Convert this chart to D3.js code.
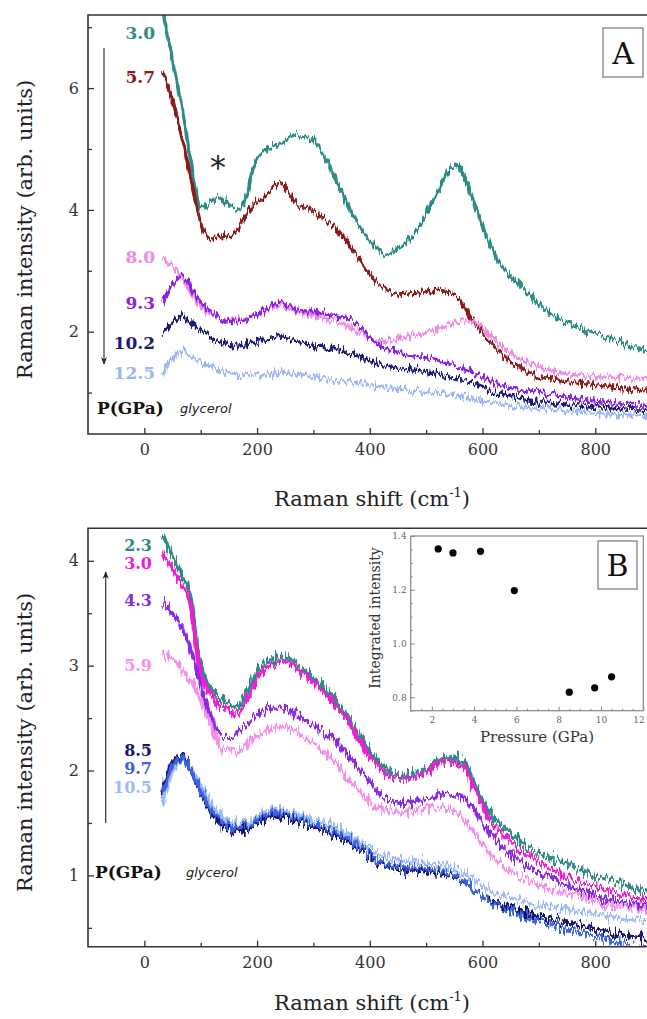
<!DOCTYPE html>
<html><head><meta charset="utf-8">
<script src="https://cdn.jsdelivr.net/npm/d3@7/dist/d3.min.js"></script>
<style>body{margin:0;background:#fff}svg{display:block}</style>
</head><body><svg id="c" width="647" height="1019"></svg>
<script>
// ---- Panel A data (Raman shift grid, cm-1) ----
const shiftA = [32,50,68,86,100,115,130,150,165,180,195,210,240,270,295,320,345,375,400,425,450,480,515,550,565,580,600,625,660,695,730,765,800,835,870,900];
const a_3_0  = [7.3,6.45,5.62,4.6,4.02,4.12,4.2,4.1,4.02,4.2,4.75,4.95,5.08,5.22,5.17,4.86,4.4,3.82,3.5,3.27,3.36,3.62,4.2,4.72,4.6,4.25,3.74,3.2,2.83,2.5,2.24,2.08,1.97,1.86,1.74,1.66];
const a_5_7  = [6.28,5.8,5.13,4.36,3.78,3.55,3.53,3.58,3.66,3.9,4.1,4.18,4.45,4.1,4.0,3.85,3.65,3.28,2.95,2.71,2.61,2.63,2.68,2.62,2.45,2.22,1.98,1.72,1.44,1.28,1.21,1.16,1.13,1.09,1.06,1.03];
const a_8_0  = [3.22,3.08,2.88,2.6,2.42,2.3,2.24,2.2,2.2,2.22,2.27,2.32,2.42,2.33,2.28,2.22,2.15,2.02,1.9,1.84,1.87,1.93,2.03,2.14,2.18,2.17,2.07,1.84,1.58,1.43,1.34,1.29,1.26,1.25,1.24,1.23];
const a_9_3  = [2.49,2.77,2.92,2.68,2.48,2.35,2.26,2.17,2.16,2.2,2.26,2.33,2.48,2.36,2.33,2.29,2.25,2.14,1.9,1.74,1.65,1.6,1.55,1.44,1.4,1.34,1.24,1.14,1.06,1.01,0.96,0.9,0.86,0.82,0.8,0.79];
const a_10_2 = [1.95,2.15,2.26,2.11,2.02,1.92,1.84,1.79,1.78,1.8,1.83,1.86,1.92,1.85,1.78,1.75,1.7,1.62,1.53,1.45,1.4,1.37,1.32,1.24,1.2,1.17,1.1,1.0,0.92,0.86,0.83,0.8,0.77,0.74,0.72,0.7];
const a_12_5 = [1.29,1.56,1.67,1.57,1.5,1.43,1.37,1.32,1.3,1.29,1.29,1.29,1.33,1.3,1.27,1.23,1.2,1.16,1.12,1.09,1.07,1.04,1.0,0.95,0.93,0.9,0.85,0.81,0.78,0.76,0.72,0.69,0.66,0.64,0.63,0.62];
const pressuresA = ["3.0","5.7","8.0","9.3","10.2","12.5"];
const colorsA = ["#2e8b84","#8b1c1c","#f28ae4","#8a22e6","#1c1c78","#9ab6f6"];

// ---- Panel B data ----
const shiftB = [32,50,68,80,98,116,140,163,187,210,240,270,305,335,365,394,424,453,492,515,539,563,586,610,645,681,728,776,823,870,900];
const b_2_3  = [4.26,4.04,3.86,3.72,3.05,2.8,2.67,2.61,2.8,3.02,3.08,3.02,2.86,2.7,2.48,2.23,2.04,1.96,2.0,2.06,2.13,2.1,1.88,1.62,1.43,1.27,1.15,1.05,0.96,0.88,0.85];
const b_3_0  = [4.05,3.92,3.75,3.62,2.98,2.74,2.6,2.54,2.72,2.95,3.04,2.97,2.82,2.66,2.44,2.18,1.99,1.92,1.96,2.03,2.09,2.05,1.82,1.55,1.35,1.19,1.05,0.94,0.86,0.79,0.76];
const b_4_3  = [3.62,3.5,3.34,3.2,2.85,2.55,2.31,2.35,2.48,2.56,2.61,2.53,2.42,2.3,2.12,1.94,1.75,1.69,1.72,1.75,1.78,1.75,1.62,1.42,1.22,1.08,0.96,0.84,0.77,0.72,0.7];
const b_5_9  = [3.12,3.05,2.95,2.88,2.7,2.45,2.2,2.18,2.28,2.36,2.42,2.37,2.23,2.1,1.9,1.73,1.62,1.6,1.62,1.64,1.64,1.56,1.4,1.22,1.05,0.95,0.86,0.79,0.72,0.68,0.66];
const b_8_5  = [1.8,2.08,2.14,2.02,1.82,1.62,1.46,1.42,1.45,1.53,1.57,1.52,1.45,1.39,1.31,1.2,1.1,1.06,1.04,1.03,1.0,0.95,0.86,0.77,0.7,0.64,0.58,0.52,0.46,0.41,0.39];
const b_9_7  = [1.75,2.04,2.12,2.02,1.84,1.65,1.5,1.46,1.48,1.56,1.6,1.55,1.48,1.42,1.34,1.22,1.12,1.08,1.07,1.05,1.02,0.96,0.86,0.76,0.67,0.6,0.52,0.45,0.38,0.32,0.29];
const b_10_5 = [1.68,1.98,2.12,2.04,1.88,1.7,1.55,1.5,1.52,1.6,1.64,1.59,1.53,1.47,1.38,1.28,1.19,1.15,1.13,1.11,1.08,1.03,0.95,0.87,0.8,0.74,0.69,0.65,0.61,0.58,0.57];
const pressuresB = ["2.3","3.0","4.3","5.9","8.5","9.7","10.5"];
const colorsB = ["#2e8b84","#f01cd8","#8a2be2","#f590ea","#16166e","#3a62e0","#9cbaf8"];

// ---- Inset data ----
const insetP = [2.3,3.0,4.3,5.9,8.5,9.7,10.5];
const insetI = [1.352,1.337,1.343,1.197,0.819,0.835,0.876];

const xTicks = [0,200,400,600,800];
const yTicksA = [2,4,6];
const yTicksB = [1,2,3,4];

const svg = d3.select("#c");
const SERIF = "'DejaVu Serif', serif";
const axisColor = "#333";
const defs = svg.append("defs");

// jagged rendering texture for the measured spectra (visual only)
function texture(id, y0, h, scale){
  const f = defs.append("filter").attr("id",id).attr("filterUnits","userSpaceOnUse")
    .attr("x",80).attr("y",y0).attr("width",580).attr("height",h);
  f.append("feTurbulence").attr("type","fractalNoise").attr("baseFrequency","0.42 0.07")
    .attr("numOctaves",2).attr("seed",4).attr("result","t");
  f.append("feColorMatrix").attr("in","t").attr("type","matrix")
    .attr("values","0 0 0 0 0.5  0 1 0 0 0  0 0 0 0 0  0 0 0 0 1").attr("result","m");
  f.append("feDisplacementMap").attr("in","SourceGraphic").attr("in2","m").attr("scale",scale)
    .attr("xChannelSelector","R").attr("yChannelSelector","G");
}
texture("texA",0,460,15);
texture("texB",510,460,20);

const x = d3.scaleLinear([-100,900],[88,651.6]);
const yA = d3.scaleLinear([0.32,7.2],[434,15]);
const yB = d3.scaleLinear([0.32,4.31],[946.7,528.3]);

function panel(y, yMaj, yMin, top, bottom, shift, series, colors, clipId, texId, titleDy, sw) {
  const g = svg.append("g");
  g.append("clipPath").attr("id",clipId).append("rect")
    .attr("x",88).attr("y",top).attr("width",564).attr("height",bottom-top);
  const lines = g.append("g").attr("clip-path",`url(#${clipId})`).append("g").attr("filter",`url(#${texId})`);
  const line = d3.line().x((d,i)=>x(shift[i])).y(d=>y(d)).curve(d3.curveMonotoneX);
  series.forEach((s,k)=>{
    lines.append("path").attr("d",line(s)).attr("fill","none")
      .attr("stroke",colors[k]).attr("stroke-width",sw).attr("stroke-linejoin","round");
  });
  g.append("path").attr("d",`M651.6,${top}H88V${bottom}H651.6`).attr("fill","none")
    .attr("stroke",axisColor).attr("stroke-width",1.6);
  g.append("g").attr("transform",`translate(0,${bottom})`)
    .call(d3.axisBottom(x).tickValues(xTicks).tickSize(-6).tickPadding(10));
  g.append("g").attr("transform",`translate(0,${bottom})`)
    .call(d3.axisBottom(x).tickValues([100,300,500,700]).tickSize(-4).tickFormat(""));
  g.append("g").attr("transform",`translate(88,0)`)
    .call(d3.axisLeft(y).tickValues(yMaj).tickSize(-6).tickPadding(9).tickFormat(d3.format("d")));
  g.append("g").attr("transform",`translate(88,0)`)
    .call(d3.axisLeft(y).tickValues(yMin).tickSize(-4).tickFormat(""));
  g.selectAll(".domain").remove();
  g.selectAll(".tick line").attr("stroke",axisColor).attr("stroke-width",1.3);
  g.selectAll(".tick text").attr("fill",axisColor).style("font-family",SERIF).style("font-size","16px");
  const xt = g.append("text").attr("x",372).attr("y",bottom+titleDy).attr("text-anchor","middle")
    .style("font-family",SERIF).style("font-size","21px").attr("fill","#222");
  xt.append("tspan").text("Raman shift (cm");
  xt.append("tspan").text("-1").attr("dy",-9).style("font-size","13px");
  xt.append("tspan").text(")").attr("dy",9);
  g.append("text").attr("transform",`translate(32,${(top+bottom)/2+5}) rotate(-90)`)
    .attr("text-anchor","middle").style("font-family",SERIF).style("font-size","21px").attr("fill","#222")
    .text("Raman intensity (arb. units)");
  return g;
}

panel(yA,yTicksA,[1,3,5,7],15,434,shiftA,[a_3_0,a_5_7,a_8_0,a_9_3,a_10_2,a_12_5],colorsA,"clipA","texA",72,3.3);
panel(yB,yTicksB,[0.5,1.5,2.5,3.5],528.3,946.7,shiftB,[b_5_9,b_4_3,b_2_3,b_3_0,b_10_5,b_8_5,b_9_7],
  [colorsB[3],colorsB[2],colorsB[0],colorsB[1],colorsB[6],colorsB[4],colorsB[5]],"clipB","texB",63,4);

const labA = [33,77,257,303,343,373];
pressuresA.forEach((p,i)=>{
  svg.append("text").attr("x",155).attr("y",labA[i]+6).attr("text-anchor","end")
    .style("font-family",SERIF).style("font-size","17px").style("font-weight","bold")
    .attr("fill",colorsA[i]).text(p);
});
const labB = [545,563,600,665,750,768,787];
pressuresB.forEach((p,i)=>{
  svg.append("text").attr("x",152).attr("y",labB[i]+6).attr("text-anchor","end")
    .style("font-family",SERIF).style("font-size","16px").style("font-weight","bold")
    .attr("fill",colorsB[i]).text(p);
});
[[408,97,180],[872,95,186]].forEach(([yy,x0,x1])=>{
  svg.append("text").attr("x",x0).attr("y",yy+6).style("font-family",SERIF).style("font-size","17px")
    .style("font-weight","bold").attr("fill","#111").text("P(GPa)");
  svg.append("text").attr("x",x1).attr("y",yy+5).style("font-family","'DejaVu Sans', sans-serif")
    .style("font-size","13px").style("font-style","italic").attr("fill","#222").text("glycerol");
});
defs.append("marker").attr("id","ah").attr("viewBox","0 0 10 10").attr("refX",9).attr("refY",5)
  .attr("markerWidth",7).attr("markerHeight",9).attr("orient","auto-start-reverse")
  .append("path").attr("d","M0,1L10,5L0,9L3,5Z").attr("fill","#222");
svg.append("line").attr("x1",104).attr("y1",48).attr("x2",104).attr("y2",364)
  .attr("stroke","#222").attr("stroke-width",1.1).attr("marker-end","url(#ah)");
svg.append("line").attr("x1",105.7).attr("y1",823).attr("x2",105.7).attr("y2",572)
  .attr("stroke","#222").attr("stroke-width",1.1).attr("marker-end","url(#ah)");
svg.append("text").attr("x",218).attr("y",178).attr("text-anchor","middle")
  .style("font-family","'DejaVu Sans', sans-serif").style("font-size","32px").attr("fill","#222").text("*");
function letterBox(x0,y0,w,h,t){
  svg.append("rect").attr("x",x0).attr("y",y0).attr("width",w).attr("height",h)
    .attr("fill","#fff").attr("stroke","#777").attr("stroke-width",1.2);
  svg.append("text").attr("x",x0+w/2).attr("y",y0+h/2+11).attr("text-anchor","middle")
    .style("font-family",SERIF).style("font-size","30px").attr("fill","#111").text(t);
}
letterBox(603,28,40,49,"A");

const ix = d3.scaleLinear([1,12],[410.7,643.3]);
const iy = d3.scaleLinear([0.75,1.4],[710.7,536]);
const gi = svg.append("g");
gi.append("rect").attr("x",410.7).attr("y",536).attr("width",232.6).attr("height",174.7)
  .attr("fill","#fff").attr("stroke","#888").attr("stroke-width",1.2);
gi.append("g").attr("transform","translate(0,710.7)")
  .call(d3.axisBottom(ix).tickValues([2,4,6,8,10,12]).tickSize(-4).tickPadding(6));
gi.append("g").attr("transform","translate(0,710.7)")
  .call(d3.axisBottom(ix).tickValues(d3.range(1.5,12,0.5).filter(v=>v%2!==0)).tickSize(-2).tickFormat(""));
gi.append("g").attr("transform","translate(410.7,0)")
  .call(d3.axisLeft(iy).tickValues([0.8,1.0,1.2,1.4]).tickSize(-4).tickPadding(4).tickFormat(d3.format(".1f")));
gi.append("g").attr("transform","translate(410.7,0)")
  .call(d3.axisLeft(iy).tickValues(d3.range(0.75,1.41,0.05).filter(v=>Math.abs(v*10-Math.round(v*10))>0.01 || Math.round(v*10)%2===1)).tickSize(-2).tickFormat(""));
gi.selectAll(".domain").remove();
gi.selectAll(".tick line").attr("stroke","#888");
gi.selectAll(".tick text").attr("fill","#666").style("font-family",SERIF).style("font-size","9px");
gi.selectAll(".tick text").filter(d=>d===12).attr("text-anchor","end").attr("dx",1);
gi.selectAll("circle.pt").data(insetP).join("circle").attr("class","pt")
  .attr("cx",d=>ix(d)).attr("cy",(d,i)=>iy(insetI[i])).attr("r",3.6).attr("fill","#000");
gi.append("text").attr("x",537).attr("y",742).attr("text-anchor","middle")
  .style("font-family",SERIF).style("font-size","15px").attr("fill","#333").text("Pressure (GPa)");
gi.append("text").attr("transform","translate(380,618) rotate(-90)").attr("text-anchor","middle")
  .style("font-family",SERIF).style("font-size","14px").attr("fill","#333").text("Integrated intensity");
letterBox(598,541,39,48,"B");
</script></body></html>
